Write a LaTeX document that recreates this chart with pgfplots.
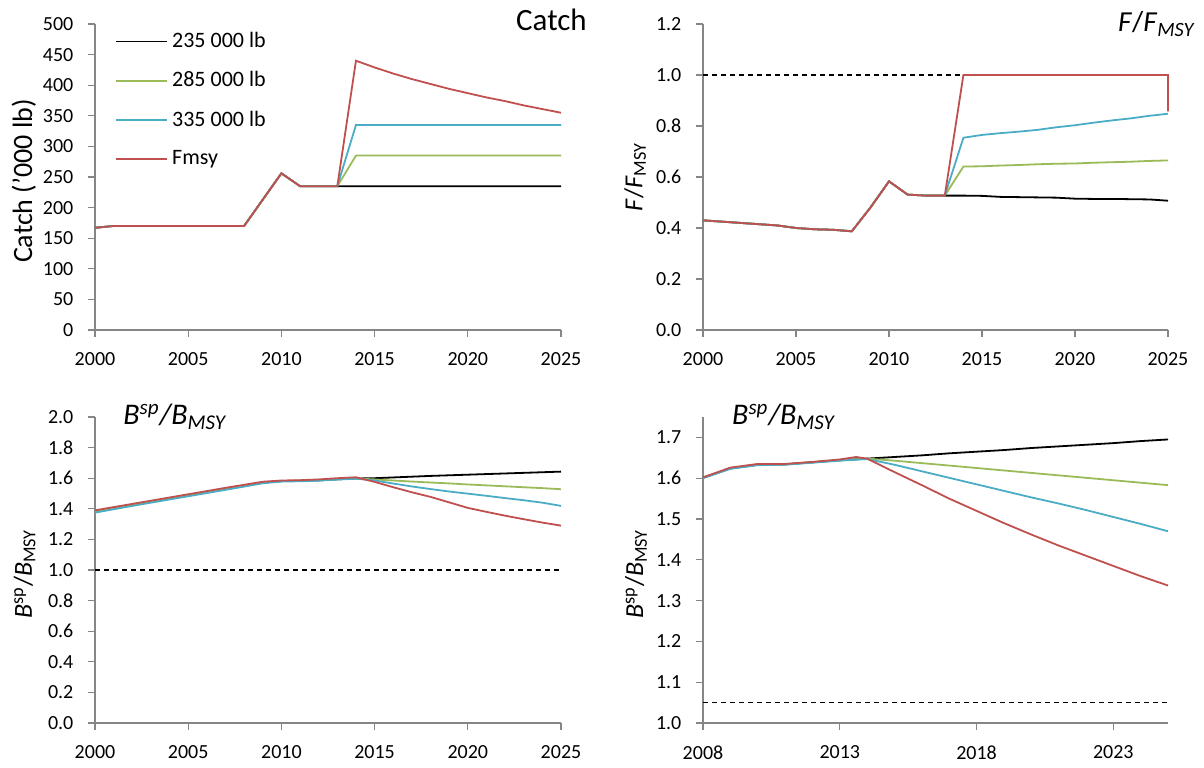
\documentclass[border=0pt]{standalone}
\usepackage{fontspec}
\setmainfont{Carlito}
\usepackage{pgfplots}
\pgfplotsset{compat=1.18}
\definecolor{axgray}{HTML}{868686}
\definecolor{cgreen}{HTML}{9BBB59}
\definecolor{cblue}{HTML}{4BACC6}
\definecolor{cred}{HTML}{C0504D}
\pgfplotsset{
  excel/.style={
    scale only axis,
    axis x line*=bottom, axis y line*=left,
    axis line style={draw=axgray, line width=0.6pt, -},
    tick style={draw=axgray, line width=0.6pt},
    tick align=outside, major tick length=3.3pt,
    ticklabel style={font=\fontsize{10}{11}\selectfont},
    /pgf/number format/assume math mode=true,
    /pgf/number format/set thousands separator={},
    xticklabel style={yshift=-4.5pt},
    yticklabel style={xshift=-4pt},
    clip=false,
    every axis plot/.append style={line width=0.9pt},
    every axis title shift=0pt,
    title style={inner sep=0pt, yshift=0pt},
    ylabel style={anchor=center},
  },
  dec1/.style={yticklabel style={/pgf/number format/.cd, fixed, fixed zerofill, precision=1}},
}
\begin{document}
\begin{tikzpicture}
\useasboundingbox (0,0) rectangle (602pt,383.5pt);
% ---------------- Catch ----------------
\begin{axis}[excel, at={(47.5pt,218.5pt)}, anchor=south west, width=233pt, height=153pt,
  xmin=2000, xmax=2025, ymin=0, ymax=500, xtick={2000,2005,...,2025}, ytick={0,50,...,500},
  ylabel={Catch ('000 lb)}, ylabel style={at={(axis description cs:-0.153,0.487)}, font=\fontsize{14}{16}\selectfont},
  title={Catch}, title style={at={(axis description cs:1.056,0.98)}, anchor=base east, font=\fontsize{15.5}{17}\selectfont},
  legend style={draw=none, fill=none, at={(axis description cs:0.03,1.0)}, anchor=north west, row sep=6.5pt, font=\fontsize{11}{12}\selectfont},
  legend cell align=left,
  legend image code/.code={\draw[#1] (0pt,0pt) -- (25.5pt,0pt);},
]
\addplot[black] coordinates {(2000,167)(2001,170)(2002,170)(2003,170)(2004,170)(2005,170)(2006,170)(2007,170)(2008,170)(2009,213)(2010,256)(2011,235)(2012,235)(2013,235)
 (2014,235)(2015,235)(2016,235)(2017,235)(2018,235)(2019,235)(2020,235)(2021,235)(2022,235)(2023,235)(2024,235)(2025,235)};
\addlegendentry{235 000 lb}
\addplot[cgreen] coordinates {(2000,167)(2001,170)(2002,170)(2003,170)(2004,170)(2005,170)(2006,170)(2007,170)(2008,170)(2009,213)(2010,256)(2011,235)(2012,235)(2013,235)
 (2014,285)(2015,285)(2016,285)(2017,285)(2018,285)(2019,285)(2020,285)(2021,285)(2022,285)(2023,285)(2024,285)(2025,285)};
\addlegendentry{285 000 lb}
\addplot[cblue] coordinates {(2000,167)(2001,170)(2002,170)(2003,170)(2004,170)(2005,170)(2006,170)(2007,170)(2008,170)(2009,213)(2010,256)(2011,235)(2012,235)(2013,235)
 (2014,335)(2015,335)(2016,335)(2017,335)(2018,335)(2019,335)(2020,335)(2021,335)(2022,335)(2023,335)(2024,335)(2025,335)};
\addlegendentry{335 000 lb}
\addplot[cred] coordinates {(2000,167)(2001,170)(2002,170)(2003,170)(2004,170)(2005,170)(2006,170)(2007,170)(2008,170)(2009,213)(2010,256)(2011,235)(2012,235)(2013,235)
 (2014,440)(2015,429)(2016,419)(2017,410)(2018,402)(2019,394)(2020,387)(2021,380)(2022,374)(2023,367)(2024,361)(2025,355)};
\addlegendentry{Fmsy}
\end{axis}
% ---------------- F/Fmsy ----------------
\begin{axis}[excel, dec1, at={(351.5pt,218.5pt)}, anchor=south west, width=232.5pt, height=153pt,
  xmin=2000, xmax=2025, ymin=0, ymax=1.2, xtick={2000,2005,...,2025}, ytick={0,0.2,...,1.2},
  ylabel={\textit{F}/\textit{F}\textsubscript{MSY}}, ylabel style={at={(axis description cs:-0.146,0.5)}, font=\fontsize{13}{15}\selectfont},
  title={\textit{F}/\textit{F}\textsubscript{\textit{MSY}}}, title style={at={(axis description cs:1.06,0.974)}, anchor=base east, font=\fontsize{14.5}{16}\selectfont},
]
\addplot[black, dash pattern=on 2.5pt off 2pt, line width=0.7pt] coordinates {(2000,1)(2025,1)};
\addplot[black] coordinates {(2000,0.43)(2001,0.425)(2002,0.42)(2003,0.415)(2004,0.41)(2005,0.40)(2006,0.395)(2007,0.393)(2008,0.387)(2009,0.48)(2010,0.583)(2011,0.531)(2012,0.527)(2013,0.527)
 (2014,0.527)(2015,0.526)(2016,0.522)(2017,0.521)(2018,0.520)(2019,0.519)(2020,0.515)(2021,0.514)(2022,0.514)(2023,0.513)(2024,0.512)(2025,0.507)};
\addplot[cgreen] coordinates {(2000,0.43)(2001,0.425)(2002,0.42)(2003,0.415)(2004,0.41)(2005,0.40)(2006,0.395)(2007,0.393)(2008,0.387)(2009,0.48)(2010,0.583)(2011,0.531)(2012,0.527)(2013,0.527)
 (2014,0.641)(2015,0.642)(2016,0.645)(2017,0.647)(2018,0.650)(2019,0.652)(2020,0.653)(2021,0.656)(2022,0.658)(2023,0.660)(2024,0.663)(2025,0.665)};
\addplot[cblue] coordinates {(2000,0.43)(2001,0.425)(2002,0.42)(2003,0.415)(2004,0.41)(2005,0.40)(2006,0.395)(2007,0.393)(2008,0.387)(2009,0.48)(2010,0.583)(2011,0.531)(2012,0.527)(2013,0.527)
 (2014,0.754)(2015,0.765)(2016,0.772)(2017,0.778)(2018,0.785)(2019,0.795)(2020,0.803)(2021,0.813)(2022,0.822)(2023,0.830)(2024,0.840)(2025,0.848)};
\addplot[cred] coordinates {(2000,0.43)(2001,0.425)(2002,0.42)(2003,0.415)(2004,0.41)(2005,0.40)(2006,0.395)(2007,0.393)(2008,0.387)(2009,0.48)(2010,0.583)(2011,0.531)(2012,0.527)(2013,0.527)
 (2014,1.0)(2015,1.0)(2016,1.0)(2017,1.0)(2018,1.0)(2019,1.0)(2020,1.0)(2021,1.0)(2022,1.0)(2023,1.0)(2024,1.0)(2025,1.0)(2025,0.857)};
\end{axis}
% ---------------- Bsp/Bmsy 2000-2025 ----------------
\begin{axis}[excel, dec1, at={(47.5pt,22pt)}, anchor=south west, width=233pt, height=153pt,
  xmin=2000, xmax=2025, ymin=0, ymax=2.0, xtick={2000,2005,...,2025}, ytick={0,0.2,...,2.0},
  ylabel={\textit{B}\textsuperscript{sp}/\textit{B}\textsubscript{MSY}}, ylabel style={at={(axis description cs:-0.151,0.487)}, font=\fontsize{13}{15}\selectfont},
  title={\textit{B\textsuperscript{sp}/B\textsubscript{MSY}}}, title style={at={(axis description cs:0.06,0.974)}, anchor=base west, font=\fontsize{15}{17}\selectfont},
]
\addplot[black, dash pattern=on 2.5pt off 2pt, line width=0.7pt] coordinates {(2000,1)(2025,1)};
\addplot[black] coordinates {(2000,1.38)(2001,1.402)(2002,1.424)(2003,1.445)(2004,1.466)(2005,1.487)(2006,1.508)(2007,1.529)(2008,1.550)(2009,1.571)(2010,1.581)(2011,1.583)(2012,1.586)(2013,1.593)(2014,1.598)
 (2015,1.600)(2016,1.605)(2017,1.610)(2018,1.615)(2019,1.619)(2020,1.623)(2021,1.627)(2022,1.631)(2023,1.635)(2024,1.639)(2025,1.643)};
\addplot[cgreen] coordinates {(2000,1.38)(2001,1.402)(2002,1.424)(2003,1.445)(2004,1.466)(2005,1.487)(2006,1.508)(2007,1.529)(2008,1.550)(2009,1.571)(2010,1.581)(2011,1.583)(2012,1.586)(2013,1.593)(2014,1.598)
 (2015,1.592)(2016,1.585)(2017,1.578)(2018,1.572)(2019,1.566)(2020,1.559)(2021,1.553)(2022,1.547)(2023,1.541)(2024,1.535)(2025,1.528)};
\addplot[cblue] coordinates {(2000,1.375)(2001,1.397)(2002,1.419)(2003,1.440)(2004,1.461)(2005,1.482)(2006,1.503)(2007,1.524)(2008,1.545)(2009,1.567)(2010,1.578)(2011,1.580)(2012,1.584)(2013,1.591)(2014,1.597)
 (2015,1.585)(2016,1.565)(2017,1.546)(2018,1.529)(2019,1.513)(2020,1.499)(2021,1.485)(2022,1.470)(2023,1.456)(2024,1.440)(2025,1.419)};
\addplot[cred] coordinates {(2000,1.39)(2001,1.411)(2002,1.432)(2003,1.453)(2004,1.474)(2005,1.495)(2006,1.516)(2007,1.537)(2008,1.557)(2009,1.577)(2010,1.585)(2011,1.587)(2012,1.592)(2013,1.600)(2014,1.606)
 (2015,1.576)(2016,1.541)(2017,1.508)(2018,1.478)(2019,1.442)(2020,1.406)(2021,1.380)(2022,1.355)(2023,1.332)(2024,1.310)(2025,1.290)};
\end{axis}
% ---------------- Bsp/Bmsy 2008-2025 ----------------
\begin{axis}[excel, at={(351.5pt,22pt)}, anchor=south west, width=232.5pt, height=153pt,
  xmin=2008, xmax=2025, ymin=1.0, ymax=1.75, xtick={2008,2013,2018,2023}, ytick={1.0,1.1,...,1.7},
  yticklabel style={/pgf/number format/.cd, fixed, fixed zerofill, precision=1},
  ylabel={\textit{B}\textsuperscript{sp}/\textit{B}\textsubscript{MSY}}, ylabel style={at={(axis description cs:-0.144,0.487)}, font=\fontsize{13}{15}\selectfont},
  title={\textit{B\textsuperscript{sp}/B\textsubscript{MSY}}}, title style={at={(axis description cs:0.062,0.974)}, anchor=base west, font=\fontsize{15}{17}\selectfont},
]
\addplot[black, dash pattern=on 2.5pt off 2pt, line width=0.7pt] coordinates {(2008,1.05)(2025,1.05)};
\addplot[black] coordinates {(2008,1.601)(2009,1.624)(2010,1.633)(2011,1.634)(2012,1.639)(2013,1.644)(2014,1.648)
 (2015,1.652)(2016,1.656)(2017,1.661)(2018,1.665)(2019,1.669)(2020,1.674)(2021,1.678)(2022,1.682)(2023,1.686)(2024,1.691)(2025,1.695)};
\addplot[cgreen] coordinates {(2008,1.601)(2009,1.624)(2010,1.633)(2011,1.634)(2012,1.639)(2013,1.644)(2014,1.648)
 (2015,1.643)(2016,1.637)(2017,1.631)(2018,1.625)(2019,1.619)(2020,1.613)(2021,1.607)(2022,1.601)(2023,1.595)(2024,1.589)(2025,1.583)};
\addplot[cblue] coordinates {(2008,1.600)(2009,1.623)(2010,1.632)(2011,1.633)(2012,1.638)(2013,1.643)(2014,1.647)
 (2015,1.633)(2016,1.617)(2017,1.601)(2018,1.585)(2019,1.569)(2020,1.553)(2021,1.538)(2022,1.522)(2023,1.505)(2024,1.488)(2025,1.470)};
\addplot[cred] coordinates {(2008,1.602)(2009,1.626)(2010,1.635)(2011,1.635)(2012,1.640)(2013,1.646)(2013.6,1.652)(2014,1.648)
 (2015,1.615)(2016,1.583)(2017,1.550)(2018,1.520)(2019,1.490)(2020,1.462)(2021,1.435)(2022,1.410)(2023,1.385)(2024,1.360)(2025,1.337)};
\end{axis}
\end{tikzpicture}
\end{document}
